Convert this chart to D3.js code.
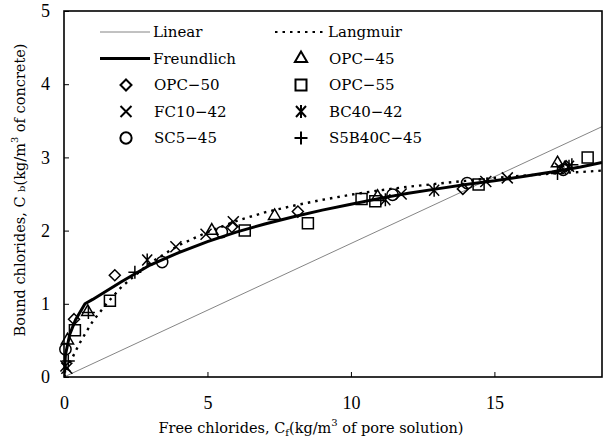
<!DOCTYPE html>
<html>
<head>
<meta charset="utf-8">
<script src="https://cdn.jsdelivr.net/npm/d3@7"></script>
<style>
  body { margin: 0; background: #fff; }
</style>
</head>
<body>
<div id="chart"></div>
<script>
// axis ticks
const xTicks = [0, 5, 10, 15];
const yTicks = [0, 1, 2, 3, 4, 5];

// fitted curves
const linearCf = [0, 18.75];
const linearCb = [0, 3.42];
const freundCf = [0, 0.05, 0.2, 0.4, 0.73, 1, 2, 3, 4, 5, 6, 7, 8, 9, 10, 11, 12, 13, 14, 15, 16, 17, 18, 18.75];
const freundCb = [0, 0.3, 0.58, 0.78, 1.0, 1.06, 1.3, 1.53, 1.7, 1.85, 1.98, 2.09, 2.19, 2.28, 2.36, 2.44, 2.51, 2.57, 2.63, 2.68, 2.74, 2.8, 2.87, 2.93];
const langCf = [0, 0.25, 0.5, 0.75, 1, 1.5, 2, 3, 4, 5, 6, 7, 8, 9, 10, 11, 12, 13, 14, 15, 16, 17, 18, 18.75];
const langCb = [0, 0.23, 0.43, 0.6, 0.76, 1.01, 1.23, 1.56, 1.8, 1.98, 2.13, 2.25, 2.34, 2.42, 2.49, 2.55, 2.6, 2.64, 2.68, 2.72, 2.75, 2.78, 2.8, 2.82];

// measured points [Cf, Cb]
const opc45 = [[0.12, 0.5], [0.83, 0.89], [5.15, 2.0], [7.34, 2.2], [10.93, 2.46], [17.2, 2.92]];
const opc50 = [[0.35, 0.79], [1.77, 1.39], [5.85, 2.05], [8.15, 2.26], [13.9, 2.57], [17.5, 2.88]];
const opc55 = [[0.38, 0.64], [1.6, 1.04], [6.3, 2.0], [8.5, 2.1], [10.37, 2.43], [10.85, 2.4], [14.45, 2.63], [18.25, 3.0]];
const fc1042 = [[0.1, 0.12], [3.9, 1.78], [4.95, 1.95], [5.9, 2.12], [11.75, 2.5], [14.7, 2.67], [15.45, 2.72], [17.3, 2.85]];
const bc4042 = [[0.05, 0.15], [2.9, 1.6], [11.2, 2.42], [12.9, 2.55], [17.6, 2.88]];
const sc545 = [[0.05, 0.38], [3.42, 1.57], [5.5, 1.98], [11.45, 2.49], [14.05, 2.65], [17.4, 2.83]];
const s5b40c45 = [[0.15, 0.22], [0.85, 0.88], [2.47, 1.43], [17.2, 2.78], [17.7, 2.9]];

const width = 605, height = 441;
const margin = { top: 11, right: 2, bottom: 64, left: 64 };
const serif = '"DejaVu Serif", "Liberation Serif", serif';

const svg = d3.select('#chart')
  .append('svg')
  .attr('width', width)
  .attr('height', height);

const x = d3.scaleLinear()
  .domain([0, 18.75])
  .range([margin.left, width - margin.right - 1]);

const y = d3.scaleLinear()
  .domain([0, 5])
  .range([height - margin.bottom, margin.top]);

svg.append('clipPath').attr('id', 'clip')
  .append('rect')
  .attr('x', x(0)).attr('y', y(5))
  .attr('width', x(18.75) - x(0)).attr('height', y(0) - y(5));

// axes with inward ticks
function xAxis(g) {
  g.attr('transform', `translate(0,${y(0)})`)
    .call(d3.axisBottom(x).tickValues(xTicks).tickFormat(d3.format('d')).tickSize(-5).tickPadding(19))
    .call(g => g.select('.domain').remove())
    .attr('font-family', '"Liberation Serif", serif')
    .attr('font-size', '18px');
}
function yAxis(g) {
  g.attr('transform', `translate(${x(0)},0)`)
    .call(d3.axisLeft(y).tickValues(yTicks).tickFormat(d3.format('d')).tickSize(-5).tickPadding(14))
    .call(g => g.select('.domain').remove())
    .attr('font-family', '"Liberation Serif", serif')
    .attr('font-size', '18px');
}
svg.append('g').call(xAxis);
svg.append('g').call(yAxis);

// curves
const line = d3.line().x(d => x(d[0])).y(d => y(d[1]));
const plot = svg.append('g').attr('clip-path', 'url(#clip)');

plot.append('path')
  .datum(d3.zip(linearCf, linearCb))
  .attr('d', line)
  .attr('fill', 'none').attr('stroke', '#777').attr('stroke-width', 0.9);

plot.append('path')
  .datum(d3.zip(langCf, langCb))
  .attr('d', line)
  .attr('fill', 'none').attr('stroke', '#000').attr('stroke-width', 2.4)
  .attr('stroke-dasharray', '2.5,5');

plot.append('path')
  .datum(d3.zip(freundCf, freundCb))
  .attr('d', line)
  .attr('fill', 'none').attr('stroke', '#000').attr('stroke-width', 3);

// marker shapes
const sym = {
  triangle: d3.symbol().type(d3.symbolTriangle).size(65)(),
  diamond: 'M0,-5.5L5.5,0L0,5.5L-5.5,0Z',
  square: 'M-5.5,-5.5H5.5V5.5H-5.5Z',
  cross: 'M-5.5,-5.5L5.5,5.5M5.5,-5.5L-5.5,5.5',
  star: 'M-5,-5.5L5,5.5M5,-5.5L-5,5.5M0,-6.5V6.5',
  circle: d3.symbol().type(d3.symbolCircle).size(100)(),
  plus: 'M-6.5,0H6.5M0,-6.5V6.5'
};

const series = [
  { name: 'OPC\u221245', data: opc45, shape: 'triangle' },
  { name: 'OPC\u221250', data: opc50, shape: 'diamond' },
  { name: 'OPC\u221255', data: opc55, shape: 'square' },
  { name: 'FC10\u221242', data: fc1042, shape: 'cross' },
  { name: 'BC40\u221242', data: bc4042, shape: 'star' },
  { name: 'SC5\u221245', data: sc545, shape: 'circle' },
  { name: 'S5B40C\u221245', data: s5b40c45, shape: 'plus' }
];

series.forEach(s => {
  svg.append('g')
    .selectAll('path')
    .data(s.data)
    .join('path')
    .attr('transform', d => `translate(${x(d[0])},${y(d[1])})`)
    .attr('d', sym[s.shape])
    .attr('fill', 'none')
    .attr('stroke', '#000')
    .attr('stroke-width', 1.5);
});

// frame
svg.append('rect')
  .attr('x', x(0)).attr('y', y(5))
  .attr('width', x(18.75) - x(0)).attr('height', y(0) - y(5))
  .attr('fill', 'none').attr('stroke', '#000').attr('stroke-width', 1.6);

// legend
const legendRows = [
  [{ name: 'Linear', line: 'linear' }, { name: 'Langmuir', line: 'lang' }],
  [{ name: 'Freundlich', line: 'freund' }, series[0]],
  [series[1], series[2]],
  [series[3], series[4]],
  [series[5], series[6]]
];
const colX = [100, 275];
const legend = svg.append('g').attr('font-family', serif).attr('font-size', '15px');
legendRows.forEach((row, i) => {
  const ly = 32 + i * 26.5;
  row.forEach((item, j) => {
    const lx = colX[j];
    if (item.line) {
      const l = legend.append('line')
        .attr('x1', lx).attr('x2', lx + 50)
        .attr('y1', ly).attr('y2', ly)
        .attr('stroke', '#000');
      if (item.line === 'linear') l.attr('stroke', '#777').attr('stroke-width', 0.9);
      if (item.line === 'freund') l.attr('stroke-width', 3);
      if (item.line === 'lang') l.attr('stroke-width', 2).attr('stroke-dasharray', '2.5,5');
      legend.append('text').attr('x', lx + 53).attr('y', ly).attr('dy', '0.35em').text(item.name);
    } else {
      legend.append('path')
        .attr('transform', `translate(${lx + 26},${ly})`)
        .attr('d', sym[item.shape])
        .attr('fill', 'none').attr('stroke', '#000').attr('stroke-width', 2);
      legend.append('text').attr('x', lx + 54).attr('y', ly).attr('dy', '0.35em').text(item.name);
    }
  });
});

// axis titles
const xt = svg.append('text')
  .attr('x', 311).attr('y', 433)
  .attr('text-anchor', 'middle')
  .attr('font-family', serif).attr('font-size', '14.5px');
xt.append('tspan').text('Free chlorides, C');
xt.append('tspan').attr('font-size', '10px').attr('dy', 3).text('f');
xt.append('tspan').attr('dy', -3).text('(kg/m');
xt.append('tspan').attr('font-size', '10px').attr('dy', -7).text('3');
xt.append('tspan').attr('dy', 7).text(' of pore solution)');

const yt = svg.append('text')
  .attr('transform', 'translate(25,190) rotate(-90)')
  .attr('text-anchor', 'middle')
  .attr('font-family', serif).attr('font-size', '14.5px');
yt.append('tspan').text('Bound chlorides, C ');
yt.append('tspan').attr('font-size', '10px').text('b');
yt.append('tspan').text('(kg/m');
yt.append('tspan').attr('font-size', '10px').attr('dy', -7).text('3');
yt.append('tspan').attr('dy', 7).text(' of concrete)');
</script>
</body>
</html>
